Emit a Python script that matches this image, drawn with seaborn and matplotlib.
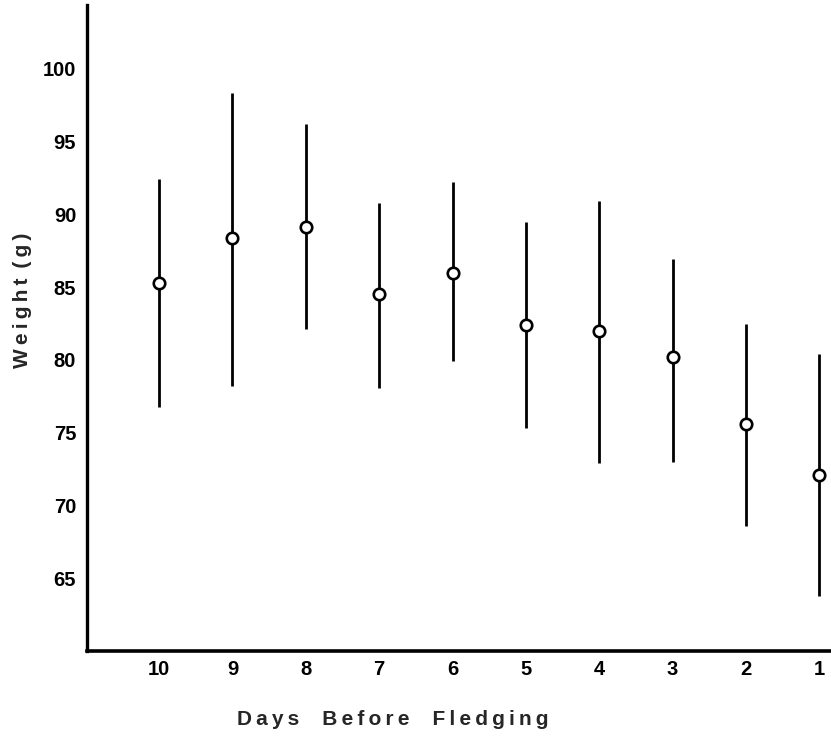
import pandas as pd
import seaborn as sns
import matplotlib.pyplot as plt

# Weight of nestlings in the days before fledging (mean and range)
days = [10, 9, 8, 7, 6, 5, 4, 3, 2, 1]
mean_weight = [85.3, 88.4, 89.1, 84.5, 86.0, 82.4, 82.0, 80.2, 75.6, 72.1]
upper_weight = [92.4, 98.3, 96.2, 90.8, 92.2, 89.5, 90.9, 86.9, 82.5, 80.4]
lower_weight = [76.8, 78.2, 82.1, 78.1, 79.9, 75.3, 72.9, 73.0, 68.6, 63.8]
y_ticks = [65, 70, 75, 80, 85, 90, 95, 100]

df = pd.DataFrame({"day": days, "mean": mean_weight,
                   "low": lower_weight, "high": upper_weight})

sns.set_style("white")
plt.rcParams["font.family"] = ["Liberation Sans", "DejaVu Sans"]
plt.rcParams["font.weight"] = "bold"

fig = plt.figure(figsize=(8.31, 7.46), dpi=100)
ax = fig.add_axes([0.105, 0.127, 0.895, 0.866])

# vertical range lines
ax.vlines(df["day"], df["low"], df["high"], color="black", linewidth=2.0, zorder=2)

# mean as open circles
sns.scatterplot(data=df, x="day", y="mean", ax=ax, marker="o", s=68,
                facecolor="white", edgecolor="black", linewidth=1.9, zorder=3)

ax.set_xlim(10.98, 0.84)
ax.set_ylim(60, 104.35)
ax.set_xticks(days)
ax.set_xticklabels([str(d) for d in days])
ax.set_yticks(y_ticks)
ax.set_yticklabels([str(v) for v in y_ticks])
ax.tick_params(axis="both", length=0, labelsize=14.5, colors="black")
ax.tick_params(axis="x", pad=6)
ax.tick_params(axis="y", pad=8)
for lab in ax.get_xticklabels() + ax.get_yticklabels():
    lab.set_fontweight("bold")

sns.despine(ax=ax)
ax.spines["left"].set_linewidth(2.4)
ax.spines["bottom"].set_linewidth(2.6)
ax.spines["left"].set_color("black")
ax.spines["bottom"].set_color("black")

ax.set_xlabel("")
ax.set_ylabel("")

# letter-spaced axis titles, as in the printed figure
def spaced(text):
    words = text.split(" ")
    return "    ".join("\u2009".join(w) for w in words)

fig.text(0.027, 0.598, "\u2009".join("Weight") + " \u2009" + "\u2009".join("(g)"),
         rotation=90, ha="center", va="center", fontsize=15, fontweight="bold")
fig.text(0.473, 0.035, spaced("Days Before Fledging"),
         ha="center", va="center", fontsize=15, fontweight="bold")

plt.savefig("out.png", dpi=100)
plt.close()
